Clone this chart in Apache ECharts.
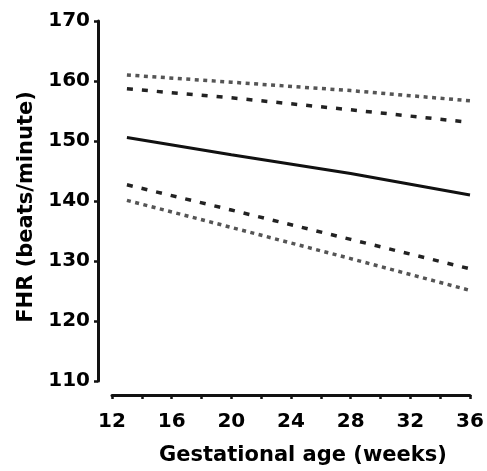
<!DOCTYPE html>
<html>
<head>
<meta charset="utf-8">
<script src="https://cdn.jsdelivr.net/npm/echarts@6/dist/echarts.min.js"></script>
<style>
html,body{margin:0;padding:0;background:#fff;}
#chart{width:487px;height:471px;}
</style>
</head>
<body>
<div id="chart"></div>
<script>
// Gestational age (weeks)
var weeks = [13, 20, 28, 36];
// FHR (beats/minute) curves
var upperOuter = [161.0, 159.8, 158.4, 156.7];  // dotted
var upperInner = [158.7, 157.2, 155.2, 153.1];  // dashed
var mean       = [150.6, 147.7, 144.6, 141.0];  // solid
var lowerInner = [142.7, 138.5, 133.6, 128.7];  // dashed
var lowerOuter = [140.1, 135.6, 130.4, 125.1];  // dotted

var xTicks = [12, 16, 20, 24, 28, 32, 36];
var yTicks = [110, 120, 130, 140, 150, 160, 170];

function pairs(ys) { return weeks.map(function (w, i) { return [w, ys[i]]; }); }

var FONT = 'DejaVu Sans';
var dotted = { color: '#555', width: 3.5, type: [4, 4.5] };
var dashed = { color: '#222', width: 3.5, type: [6, 9] };

function mk(name, ys, style) {
  return { name: name, type: 'line', data: pairs(ys), showSymbol: false, symbol: 'none',
           lineStyle: style, silent: true, animation: false };
}

var chart = echarts.init(document.getElementById('chart'), null, { renderer: 'canvas' });
chart.setOption({
  backgroundColor: '#fff',
  animation: false,
  grid: { left: 112, right: 17, top: 21, bottom: 88, containLabel: false },
  xAxis: {
    type: 'value', min: xTicks[0], max: xTicks[xTicks.length - 1], interval: 4,
    offset: 14,
    name: 'Gestational age (weeks)', nameLocation: 'middle', nameGap: 50,
    nameTextStyle: { fontFamily: FONT, fontWeight: 'bold', fontSize: 21, color: '#000', padding: [0, 0, 0, 24] },
    axisLine: { show: true, onZero: false, lineStyle: { color: '#111', width: 3 } },
    axisTick: { show: true, inside: false, length: 4, lineStyle: { color: '#111', width: 2.5 } },
    minorTick: { show: true, splitNumber: 2, length: 4, lineStyle: { color: '#111', width: 2.5 } },
    axisLabel: { fontFamily: FONT, fontWeight: 'bold', fontSize: 20, color: '#000', margin: 17,
                 formatter: function (v) { return xTicks.indexOf(v) >= 0 ? String(v) : ''; } },
    splitLine: { show: false }
  },
  yAxis: {
    type: 'value', min: yTicks[0], max: yTicks[yTicks.length - 1], interval: 10,
    offset: 14,
    name: 'FHR (beats/minute)', nameLocation: 'middle', nameGap: 61, nameRotate: 90,
    nameTextStyle: { fontFamily: FONT, fontWeight: 'bold', fontSize: 21, color: '#000', padding: [0, 12, 0, 0] },
    axisLine: { show: true, onZero: false, lineStyle: { color: '#111', width: 3 } },
    axisTick: { show: true, length: 4, lineStyle: { color: '#111', width: 2.5 } },
    axisLabel: { fontFamily: FONT, fontWeight: 'bold', fontSize: 20, color: '#000', margin: 8,
                 formatter: function (v) { return yTicks.indexOf(v) >= 0 ? String(v) : ''; } },
    splitLine: { show: false }
  },
  series: [
    mk('upperOuter', upperOuter, dotted),
    mk('upperInner', upperInner, dashed),
    mk('mean', mean, { color: '#111', width: 3 }),
    mk('lowerInner', lowerInner, dashed),
    mk('lowerOuter', lowerOuter, dotted)
  ]
});
</script>
</body>
</html>
